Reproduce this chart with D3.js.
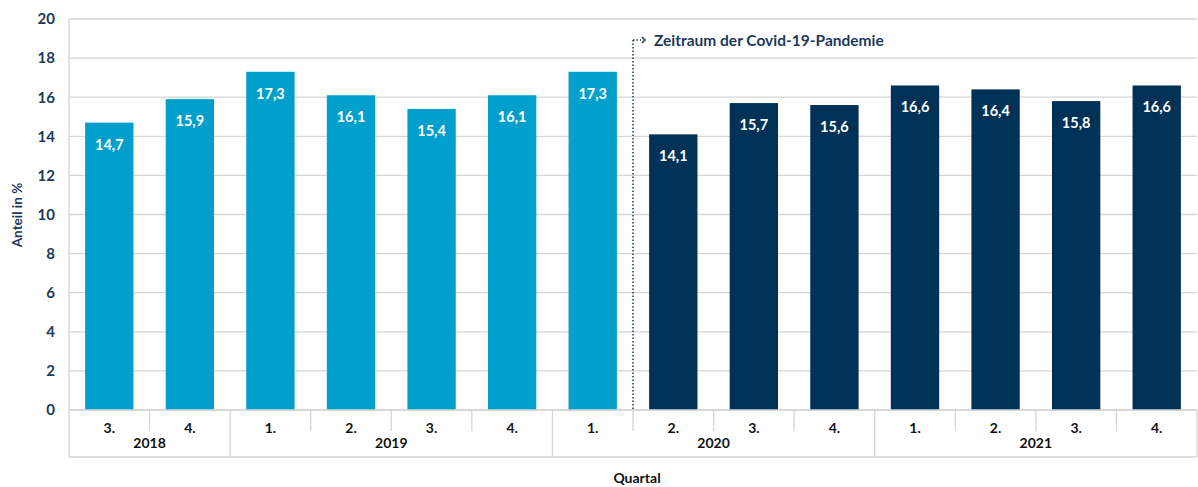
<!DOCTYPE html>
<html>
<head>
<meta charset="utf-8">
<script src="https://cdn.jsdelivr.net/npm/d3@7"></script>
<style>
  body { margin: 0; background: #fff; }
  text { font-family: Lato, "Open Sans", sans-serif; font-weight: bold; }
</style>
</head>
<body>
<script>
// data
var quarters = ["3.", "4.", "1.", "2.", "3.", "4.", "1.", "2.", "3.", "4.", "1.", "2.", "3.", "4."];
var years = ["2018", "2018", "2019", "2019", "2019", "2019", "2020", "2020", "2020", "2020", "2021", "2021", "2021", "2021"];
var values = [14.7, 15.9, 17.3, 16.1, 15.4, 16.1, 17.3, 14.1, 15.7, 15.6, 16.6, 16.4, 15.8, 16.6];
var pandemic = [false, false, false, false, false, false, false, true, true, true, true, true, true, true];
var yTicks = [0, 2, 4, 6, 8, 10, 12, 14, 16, 18, 20];

var width = 1198, height = 487;
var plotLeft = 69, plotRight = 1197, plotTop = 19, plotBottom = 410, axisBottom = 457;
var navy = "#1b3a5c";
var gridColor = "#d6d6d6";

var svg = d3.select("body").append("svg")
    .attr("width", width)
    .attr("height", height);

var ids = values.map((d, i) => i);

var x = d3.scaleBand()
    .domain(ids)
    .range([plotLeft, plotRight])
    .paddingInner(0.4)
    .paddingOuter(0.2);

var y = d3.scaleLinear()
    .domain([0, 20])
    .range([plotBottom, plotTop]);

// gridlines
svg.append("g")
    .selectAll("line")
    .data(yTicks)
    .enter()
    .append("line")
    .attr("x1", plotLeft)
    .attr("x2", plotRight)
    .attr("y1", d => y(d))
    .attr("y2", d => y(d))
    .attr("stroke", gridColor)
    .attr("stroke-width", 1.3);

// left border
svg.append("line")
    .attr("x1", plotLeft).attr("x2", plotLeft)
    .attr("y1", plotTop).attr("y2", axisBottom)
    .attr("stroke", gridColor).attr("stroke-width", 1.3);

// y axis labels
var yAxis = d3.axisLeft(y).tickValues(yTicks).tickSize(0).tickPadding(14);
var gy = svg.append("g")
    .attr("transform", `translate(${plotLeft},0)`)
    .call(yAxis);
gy.select(".domain").remove();
gy.selectAll("text")
    .attr("fill", navy)
    .attr("font-size", "15px")
    .attr("font-family", "Lato, sans-serif")
    .attr("font-weight", "bold");

svg.append("text")
    .attr("transform", "translate(22,215) rotate(-90)")
    .attr("text-anchor", "middle")
    .attr("fill", navy)
    .attr("font-size", "13.5px")
    .text("Anteil in %");

// bars
svg.selectAll("rect.bar")
    .data(ids)
    .enter()
    .append("rect")
    .attr("class", "bar")
    .attr("x", i => x(i))
    .attr("y", i => y(values[i]))
    .attr("width", x.bandwidth())
    .attr("height", i => y(0) - y(values[i]))
    .attr("fill", i => pandemic[i] ? "#003157" : "#009fcc");

// value labels
svg.selectAll("text.val")
    .data(ids)
    .enter()
    .append("text")
    .attr("class", "val")
    .attr("x", i => x(i) + x.bandwidth() / 2)
    .attr("y", i => y(values[i]) + 27)
    .attr("text-anchor", "middle")
    .attr("fill", "#fff")
    .attr("font-size", "14.5px")
    .text(i => values[i].toFixed(1).replace(".", ","));

// pandemic marker
var step = x.step();
var gap = (step - x.bandwidth()) / 2;
var splitX = x(7) - gap;
svg.append("line")
    .attr("x1", splitX).attr("x2", splitX)
    .attr("y1", 40).attr("y2", plotBottom)
    .attr("stroke", navy)
    .attr("stroke-width", 1.5)
    .attr("stroke-dasharray", "1.5,2");
svg.append("line")
    .attr("x1", splitX).attr("x2", splitX + 8)
    .attr("y1", 40).attr("y2", 40)
    .attr("stroke", navy)
    .attr("stroke-width", 1.5)
    .attr("stroke-dasharray", "1.5,2");
svg.append("path")
    .attr("d", `M${splitX + 9},37 L${splitX + 12},40 L${splitX + 9},43`)
    .attr("fill", "none")
    .attr("stroke", navy)
    .attr("stroke-width", 1.5);
svg.append("text")
    .attr("x", splitX + 21)
    .attr("y", 46)
    .attr("fill", navy)
    .attr("font-size", "15.5px")
    .text("Zeitraum der Covid-19-Pandemie");

// category axis (quarters + years)
[plotBottom, axisBottom].forEach(function(ly) {
    svg.append("line")
        .attr("x1", plotLeft).attr("x2", plotRight)
        .attr("y1", ly).attr("y2", ly)
        .attr("stroke", gridColor).attr("stroke-width", 1.3);
});

// separators
ids.forEach(function(i) {
    var bx = x(i) + x.bandwidth() + gap;
    var yearEnd = i === ids.length - 1 || years[i] !== years[i + 1];
    svg.append("line")
        .attr("x1", bx).attr("x2", bx)
        .attr("y1", plotBottom).attr("y2", yearEnd ? axisBottom : 431)
        .attr("stroke", gridColor).attr("stroke-width", 1.3);
});

svg.selectAll("text.q")
    .data(ids)
    .enter()
    .append("text")
    .attr("class", "q")
    .attr("x", i => x(i) + x.bandwidth() / 2)
    .attr("y", 433)
    .attr("text-anchor", "middle")
    .attr("fill", "#111")
    .attr("font-size", "14px")
    .text(i => quarters[i]);

var yearGroups = d3.groups(ids, i => years[i]);
svg.selectAll("text.yr")
    .data(yearGroups)
    .enter()
    .append("text")
    .attr("class", "yr")
    .attr("x", g => (x(g[1][0]) + x(g[1][g[1].length - 1]) + x.bandwidth()) / 2)
    .attr("y", 448)
    .attr("text-anchor", "middle")
    .attr("fill", "#111")
    .attr("font-size", "14px")
    .text(g => g[0]);

svg.append("text")
    .attr("x", 637)
    .attr("y", 483)
    .attr("text-anchor", "middle")
    .attr("fill", "#111")
    .attr("font-size", "14px")
    .text("Quartal");
</script>
</body>
</html>
